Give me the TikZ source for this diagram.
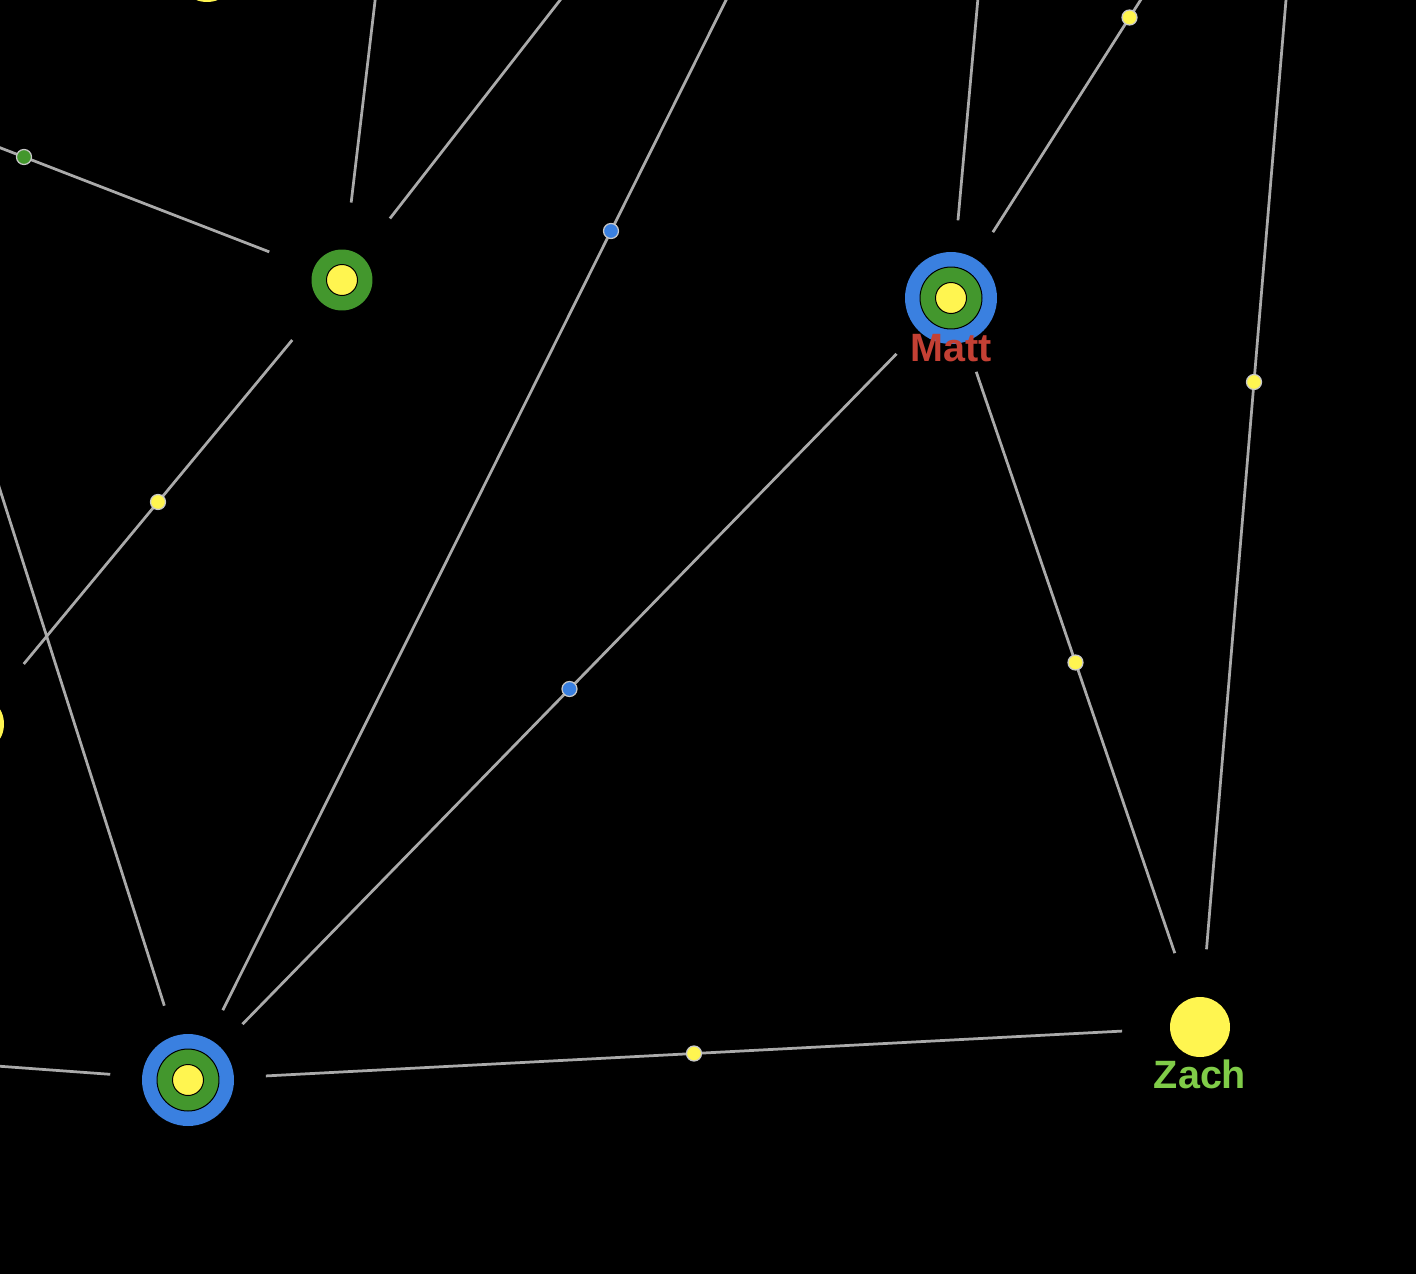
\documentclass[tikz,border=0pt]{standalone}
\usepackage{fontspec}
\setmainfont{Liberation Sans}
\usetikzlibrary{positioning}
\definecolor{ringblue}{RGB}{58,128,224}
\definecolor{ringgreen}{RGB}{67,151,45}
\definecolor{coreyellow}{RGB}{255,245,80}
\definecolor{linkgray}{RGB}{170,170,170}
\definecolor{dotgray}{RGB}{200,200,200}
\definecolor{mattred}{RGB}{196,64,52}
\definecolor{zachgreen}{RGB}{128,204,72}

\begin{document}
\begin{tikzpicture}[x=0.02cm, y=-0.02cm,
    link/.style={draw=linkgray, line width=0.055cm, shorten >=1.56cm, shorten <=1.56cm},
    dot/.style={circle, draw=dotgray, line width=0.025cm, minimum size=0.3cm, inner sep=0pt},
    ring/.style={circle, minimum size=#1, inner sep=0pt},
    layer/.style={draw=black, line width=0.02cm},
    label/.style={font=\fontsize{22.5}{27}\selectfont\bfseries, anchor=base}]
    \useasboundingbox (0,0) rectangle (1416,1274);
    \fill[black] (0,0) rectangle (1416,1274);
    \clip (0,0) rectangle (1416,1274);

    % people
    \node[ring=1.84cm, fill=ringblue] (matt) at (951,298) {};
    \node[ring=1.24cm, fill=ringgreen, layer] at (matt) {};
    \node[ring=0.62cm, fill=coreyellow, layer] at (matt) {};
    \node[ring=1.84cm, fill=ringblue] (hub) at (188,1080) {};
    \node[ring=1.24cm, fill=ringgreen, layer] at (hub) {};
    \node[ring=0.62cm, fill=coreyellow, layer] at (hub) {};
    \node[ring=1.22cm, fill=ringgreen] (grp) at (342,280) {};
    \node[ring=0.62cm, fill=coreyellow, layer] at (grp) {};
    \node[ring=1.2cm, fill=coreyellow] (zach) at (1200,1027) {};
    \node[ring=1.2cm, fill=coreyellow] (west) at (-26,724) {};
    \node[ring=1.2cm, fill=coreyellow] (north) at (207,-28) {};
    \node[ring=1.2cm, fill=coreyellow] (east) at (1308,-263) {};

    % off-picture ends
    \coordinate (farA) at (-294,34);
    \coordinate (farB) at (400,-210);
    \coordinate (farC) at (822,-336);
    \coordinate (farD) at (1034,-618);
    \coordinate (farE) at (1010,-358);
    \coordinate (farF) at (-263,-336);
    \coordinate (farG) at (-400,1037);

    % links
    \draw[link] (grp.center) -- node[dot, fill=ringgreen] {} (farA);
    \draw[link] (grp.center) -- (farB);
    \draw[link] (grp.center) -- (farC);
    \draw[link] (grp.center) -- node[dot, fill=coreyellow] {} (west.center);
    \draw[link] (hub.center) -- node[dot, fill=ringblue] {} (farD);
    \draw[link] (hub.center) -- node[dot, fill=ringblue] {} (matt.center);
    \draw[link] (hub.center) -- (farF);
    \draw[link] (hub.center) -- (farG);
    \draw[link] (hub.center) -- node[dot, fill=coreyellow] {} (zach.center);
    \draw[link] (matt.center) -- (farE);
    \draw[link] (matt.center) -- node[dot, fill=coreyellow] {} (east.center);
    \draw[link] (matt.center) -- node[dot, fill=coreyellow] {} (zach.center);
    \draw[link] (zach.center) -- node[dot, fill=coreyellow] {} (east.center);

    % names
    \node[label, text=mattred] (mattname) at (951,361) {Matt};
    \node[label, text=zachgreen] (zachname) at (1200,1088) {Zach};
\end{tikzpicture}
\end{document}
